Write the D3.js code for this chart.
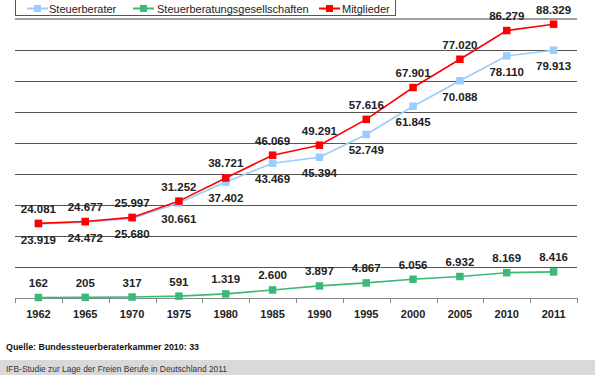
<!DOCTYPE html>
<html><head><meta charset="utf-8">
<script src="https://cdn.jsdelivr.net/npm/d3@7"></script>
<style>body{margin:0;background:#fff}svg{display:block;font-family:"Liberation Sans",Arial,sans-serif}</style>
</head><body><svg id="c" width="595" height="375"></svg>
<script>
const years = ["1962","1965","1970","1975","1980","1985","1990","1995","2000","2005","2010","2011"];
const steuerberater = [23919,24472,25680,30661,37402,43469,45394,52749,61845,70088,78110,79913];
const gesellschaften = [162,205,317,591,1319,2600,3897,4867,6056,6932,8169,8416];
const mitglieder = [24081,24677,25997,31252,38721,46069,49291,57616,67901,77020,86279,88329];
const yTicks = [10000,20000,30000,40000,50000,60000,70000,80000];
const seriesNames = ["Steuerberater","Steuerberatungsgesellschaften","Mitglieder"];
const sourceText = "Quelle: Bundessteuerberaterkammer 2010: 33";
const footerText = "IFB-Studie zur Lage der Freien Berufe in Deutschland 2011";

const svg = d3.select("#c");
const x = d3.scaleBand().domain(years).range([15, 577]);
const y = d3.scaleLinear().domain([0, 90000]).range([298, 19]);
const cx = d => x(d) + x.bandwidth()/2;

// gridlines
svg.append("g").selectAll("line").data(yTicks).join("line")
  .attr("x1",15).attr("x2",577).attr("y1",d=>Math.round(y(d))+0.5).attr("y2",d=>Math.round(y(d))+0.5)
  .attr("stroke","#555").attr("stroke-width",1);
svg.append("line").attr("x1",15).attr("x2",577).attr("y1",y(90000)).attr("y2",y(90000))
  .attr("stroke","#a0a0a0").attr("stroke-width",2);

// x axis
const ax = svg.append("g").attr("transform","translate(0,298)")
  .call(d3.axisBottom(x).tickSize(0).tickPadding(12));
ax.select(".domain").attr("stroke","#888");
ax.selectAll("text").attr("font-size","11px").attr("font-weight","bold").attr("fill","#222")
  .attr("font-family","Liberation Sans, Arial, sans-serif");
const bounds = years.map(d=>x(d)).concat([x(years[years.length-1])+x.bandwidth()]);
ax.append("g").selectAll("line").data(bounds).join("line")
  .attr("x1",d=>Math.round(d)+0.5).attr("x2",d=>Math.round(d)+0.5).attr("y1",0).attr("y2",5)
  .attr("stroke","#888");

const series = [
  {name:seriesNames[0], vals:steuerberater, color:"#99ccff", dy:16},
  {name:seriesNames[1], vals:gesellschaften, color:"#3cb878", dy:-14.5},
  {name:seriesNames[2], vals:mitglieder, color:"#ff0000", dy:-14.5}
];
const fmt = v => d3.format(",")(v).replace(/,/g,".");
const line = d3.line().x((v,i)=>cx(years[i])).y(v=>y(v));
series.forEach(s=>{
  const g = svg.append("g");
  g.append("path").attr("d",line(s.vals)).attr("fill","none").attr("stroke",s.color).attr("stroke-width",1.6);
  g.selectAll("rect").data(s.vals).join("rect")
    .attr("x",(v,i)=>cx(years[i])-3.75).attr("y",v=>y(v)-3.75).attr("width",7.5).attr("height",7.5)
    .attr("fill",s.color);
});
series.forEach(s=>{
  svg.append("g").selectAll("text").data(s.vals).join("text")
    .attr("x",(v,i)=>cx(years[i])).attr("y",v=>y(v)+s.dy)
    .attr("text-anchor","middle").attr("dominant-baseline","central")
    .attr("font-size","11.5px").attr("font-weight","bold").attr("fill","#222")
    .text(fmt);
});

// legend
const lg = svg.append("g");
lg.append("rect").attr("x",15.5).attr("y",-1).attr("width",380).attr("height",16.5)
  .attr("fill","#fff").attr("stroke","#555");
const legPos = [{lx:27, tx:49}, {lx:133, tx:157}, {lx:319, tx:342}];
series.forEach((s,i)=>{
  const p = legPos[i];
  lg.append("line").attr("x1",p.lx).attr("x2",p.lx+21).attr("y1",8.5).attr("y2",8.5).attr("stroke",s.color).attr("stroke-width",2);
  lg.append("rect").attr("x",p.lx+7).attr("y",5).attr("width",7).attr("height",7).attr("fill",s.color);
  lg.append("text").attr("x",p.tx).attr("y",9).attr("dominant-baseline","central")
    .attr("font-size","11px").attr("fill","#222").text(s.name);
});

// source + footer
svg.append("text").attr("x",6).attr("y",350).attr("font-size","9.5px").attr("font-weight","bold")
  .attr("fill","#111").attr("textLength",193).attr("lengthAdjust","spacingAndGlyphs").text(sourceText);
svg.append("rect").attr("x",0).attr("y",360).attr("width",595).attr("height",15).attr("fill","#d9d9d9");
svg.append("text").attr("x",6).attr("y",372).attr("font-size","8.5px")
  .attr("fill","#333").attr("textLength",221).attr("lengthAdjust","spacingAndGlyphs").text(footerText);
</script></body></html>
